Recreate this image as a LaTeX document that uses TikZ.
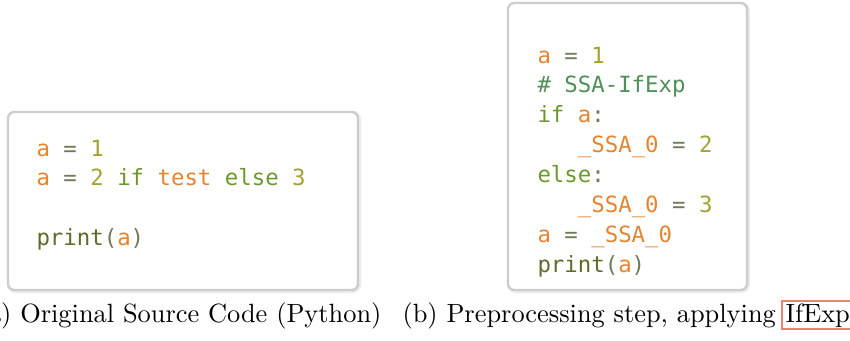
\documentclass[tikz,border=0pt]{standalone}
\usepackage{fontspec}
\usetikzlibrary{calc}
\newfontfamily\codefont{DejaVu Sans Mono}
\definecolor{cvar}{RGB}{229,133,47}
\definecolor{cnum}{RGB}{163,162,48}
\definecolor{cop}{RGB}{108,122,88}
\definecolor{ckw}{RGB}{108,152,44}
\definecolor{ccm}{RGB}{78,144,88}
\definecolor{cfn}{RGB}{92,108,42}
\definecolor{boxline}{RGB}{205,205,205}
\definecolor{linkred}{RGB}{240,128,116}
\newcommand\cVar[1]{\textcolor{cvar}{#1}}
\newcommand\cNum[1]{\textcolor{cnum}{#1}}
\newcommand\cOp[1]{\textcolor{cop}{#1}}
\newcommand\cKw[1]{\textcolor{ckw}{#1}}
\newcommand\cCm[1]{\textcolor{ccm}{#1}}
\newcommand\cFn[1]{\textcolor{cfn}{#1}}
\tikzset{
  codebox/.style={draw=boxline, line width=0.9pt, rounded corners=2.4pt, fill=white},
  boxshadow/.style={draw=black!8, line width=1.6pt, rounded corners=2.6pt},
  codeline/.style={anchor=base west, inner sep=0pt, font=\codefont\fontsize{8.47}{10}\selectfont},
  caption/.style={inner sep=0pt, font=\fontsize{10}{12}\selectfont},
  linkbox/.style={draw=linkred, line width=0.75pt}
}
\begin{document}
\begin{tikzpicture}[x=0.379pt, y=-0.379pt]
  \useasboundingbox (0,0) rectangle (850,340);

  % code panels
  \draw[boxshadow] (9,113) rectangle (359,291);
  \draw[codebox] (8,112) rectangle (358,290);
  \draw[boxshadow] (509,4) rectangle (748,291);
  \draw[codebox] (508,3) rectangle (747,290);

  % original source
  \node[codeline] (o1) at (36,156) {\cVar{a} \cOp{=} \cNum{1}};
  \node[codeline] (o2) at (36,185.7) {\cVar{a} \cOp{=} \cNum{2} \cKw{if} \cVar{test} \cKw{else} \cNum{3}};
  \node[codeline] (o3) at (36,245) {\cFn{print}\cOp{(}\cVar{a}\cOp{)}};

  % preprocessed source
  \node[codeline] (p1) at (537,63) {\cVar{a} \cOp{=} \cNum{1}};
  \node[codeline] (p2) at (537,92.9) {\cCm{\# SSA-IfExp}};
  \node[codeline] (p3) at (537,122.7) {\cKw{if} \cVar{a}\cOp{:}};
  \node[codeline] (p4) at (577.4,152.6) {\cVar{\_SSA\_0} \cOp{=} \cNum{2}};
  \node[codeline] (p5) at (537,182.4) {\cKw{else}\cOp{:}};
  \node[codeline] (p6) at (577.4,212.3) {\cVar{\_SSA\_0} \cOp{=} \cNum{3}};
  \node[codeline] (p7) at (537,242.1) {\cVar{a} \cOp{=} \cVar{\_SSA\_0}};
  \node[codeline] (p8) at (537,272) {\cFn{print}\cOp{(}\cVar{a}\cOp{)}};

  % captions
  \node[caption, anchor=base east] (capa) at (382,322) {(a) Original Source Code (Python)};
  \node[caption, anchor=base west] (capb) at (402,322) {(b) Preprocessing step, applying};
  \node[caption, anchor=base west] (ifexp) at ($(capb.base east)+(3.33pt,0)$) {IfExp};
  \draw[linkbox] ($(ifexp.base west)+(-1.2pt,-2.6pt)$) rectangle ($(ifexp.base east)+(12pt,7.9pt)$);
\end{tikzpicture}
\end{document}
